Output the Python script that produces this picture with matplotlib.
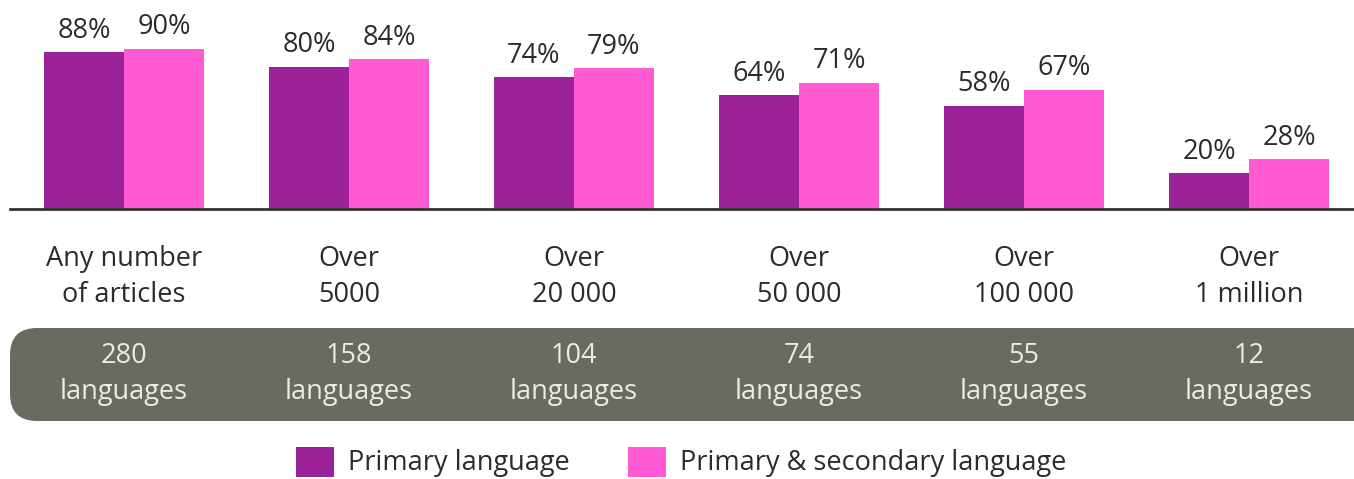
import matplotlib
matplotlib.use("Agg")
import matplotlib.pyplot as plt
import numpy as np
from matplotlib.patches import FancyBboxPatch, Rectangle

categories = ["Any number\nof articles", "Over\n5000", "Over\n20 000", "Over\n50 000", "Over\n100 000", "Over\n1 million"]
languages = ["280\nlanguages", "158\nlanguages", "104\nlanguages", "74\nlanguages", "55\nlanguages", "12\nlanguages"]
primary = [88, 80, 74, 64, 58, 20]
primary_secondary = [90, 84, 79, 71, 67, 28]
series_names = ["Primary language", "Primary & secondary language"]

PURPLE = "#9c229a"
PINK = "#ff5ad4"
BOX = "#6b6a61"
TEXT = "#2b2b2b"

plt.rcParams["font.family"] = ["Open Sans", "DejaVu Sans"]
FS = 19.5

W, H = 1354, 479
fig = plt.figure(figsize=(W / 100, H / 100), dpi=100)
ax = fig.add_axes([0, 0, 1, 1])
ax.axis("off")

# pixel layout -> data scale: group spacing 225 px, first centre at 124 px, 1.78 px per %
x = np.arange(len(categories))
ax.set_xlim(-124 / 225, (W - 124) / 225)
ax.set_ylim(-(H - 209) / 1.78, 209 / 1.78)
bw = 80 / 225

b1 = ax.bar(x - bw / 2, primary, bw, color=PURPLE, zorder=2)
b2 = ax.bar(x + bw / 2, primary_secondary, bw, color=PINK, zorder=2)

for bars, vals in ((b1, primary), (b2, primary_secondary)):
    for r, v in zip(bars, vals):
        ax.text(r.get_x() + r.get_width() / 2, v + 12, f"{v}%", ha="center", va="center",
                fontsize=FS, color=TEXT)

ax.axhline(0, xmin=10 / W, xmax=1, color="#333333", lw=2, zorder=3)

for i, c in enumerate(categories):
    ax.text(i, -(277 - 209) / 1.78, c, ha="center", va="center", fontsize=FS, color=TEXT,
            linespacing=1.4)

box = FancyBboxPatch((10 / W, (H - 421) / H), 1.02 - 10 / W, 93 / H,
                     boxstyle="round,pad=0,rounding_size=0.02",
                     transform=ax.transAxes, facecolor=BOX, edgecolor="none", mutation_aspect=W / H)
ax.add_patch(box)
for i, l in enumerate(languages):
    ax.text(i, -(374 - 209) / 1.78, l, ha="center", va="center", fontsize=FS, color="#ecece4",
            linespacing=1.4)

# legend
for px, col, name in ((296, PURPLE, series_names[0]), (628, PINK, series_names[1])):
    ax.add_patch(Rectangle((px / W, (H - 477) / H), 38 / W, 30 / H, transform=ax.transAxes,
                           facecolor=col, edgecolor="none"))
    ax.text((px + 52) / W, (H - 463) / H, name, transform=ax.transAxes, ha="left", va="center",
            fontsize=FS, color=TEXT)

plt.savefig("out.png", dpi=100)
